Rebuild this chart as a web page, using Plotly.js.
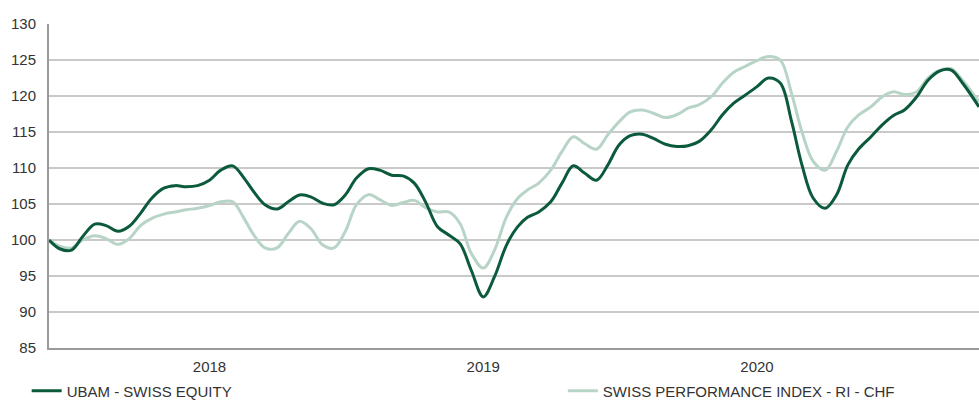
<!DOCTYPE html>
<html>
<head>
<meta charset="utf-8">
<script src="https://cdn.plot.ly/plotly-3.0.1.min.js"></script>
<style>html,body{margin:0;padding:0;background:#fff;}#chart{width:979px;height:400px;}</style>
</head>
<body>
<div id="chart"></div>
<script>
const dates = [
 '2017-06-01','2017-06-16','2017-07-01','2017-07-16','2017-08-01','2017-08-16','2017-09-01','2017-09-16',
 '2017-10-01','2017-10-16','2017-11-01','2017-11-16','2017-12-01','2017-12-16',
 '2018-01-01','2018-01-16','2018-02-01','2018-02-16','2018-03-01','2018-03-16','2018-04-01','2018-04-16',
 '2018-05-01','2018-05-16','2018-06-01','2018-06-16','2018-07-01','2018-07-16','2018-08-01','2018-08-16',
 '2018-09-01','2018-09-16','2018-10-01','2018-10-16','2018-11-01','2018-11-16','2018-12-01','2018-12-16',
 '2019-01-01','2019-01-16','2019-02-01','2019-02-16','2019-03-01','2019-03-16','2019-04-01','2019-04-16',
 '2019-05-01','2019-05-16','2019-06-01','2019-06-16','2019-07-01','2019-07-16','2019-08-01','2019-08-16',
 '2019-09-01','2019-09-16','2019-10-01','2019-10-16','2019-11-01','2019-11-16','2019-12-01','2019-12-16',
 '2020-01-01','2020-01-16','2020-02-01','2020-02-16','2020-03-01','2020-03-16','2020-04-01','2020-04-16',
 '2020-05-01','2020-05-16','2020-06-01','2020-06-16','2020-07-01','2020-07-16','2020-08-01','2020-08-16',
 '2020-09-01','2020-09-16','2020-10-01','2020-10-23'
];
const ubam = [
 100.0, 98.75, 98.6, 100.5, 102.2, 102.0, 101.2, 101.9,
 103.7, 105.8, 107.2, 107.55, 107.4, 107.55,
 108.3, 109.7, 110.3, 108.6, 106.7, 104.9, 104.3, 105.3,
 106.25, 106.0, 105.1, 104.9, 106.25, 108.6, 109.9, 109.7,
 109.0, 108.9, 107.9, 105.3, 101.85, 100.7, 99.5, 95.8,
 92.1, 94.9, 99.3, 101.85, 103.15, 103.9, 105.3, 107.9,
 110.3, 109.3, 108.3, 110.4, 113.2, 114.5, 114.7, 114.1,
 113.3, 113.0, 113.1, 113.7, 115.3, 117.4, 119.0, 120.1,
 121.3, 122.5, 121.8, 116.5, 110.4, 105.8, 104.4, 106.25,
 110.4, 112.7, 114.35, 116.0, 117.3, 118.1, 119.9, 122.2,
 123.5, 123.6, 121.8, 118.5
];
const spi = [
 100.0, 99.1, 98.9, 100.0, 100.6, 100.2, 99.4, 100.2,
 102.0, 103.0, 103.6, 103.9, 104.2, 104.4,
 104.8, 105.3, 105.3, 103.0, 100.7, 98.9, 98.9, 100.9,
 102.6, 101.6, 99.3, 98.9, 101.2, 104.9, 106.3, 105.6,
 104.8, 105.2, 105.5, 104.5, 103.9, 103.9, 102.3, 98.15,
 96.1, 98.6, 103.2, 105.8, 106.95, 107.9, 109.7, 112.3,
 114.35, 113.4, 112.6, 114.6, 116.4, 117.8, 118.05, 117.6,
 117.0, 117.4, 118.3, 118.8, 119.9, 121.8, 123.3, 124.1,
 124.9, 125.5, 125.0, 120.4, 115.0, 110.9, 109.7, 112.3,
 115.7, 117.4, 118.5, 119.9, 120.6, 120.2, 120.6, 122.5,
 123.6, 123.8, 122.2, 119.2
];
const seriesNames = ['UBAM - SWISS EQUITY', 'SWISS PERFORMANCE INDEX - RI - CHF'];
const yearTickVals = ['2018-01-01', '2019-01-01', '2020-01-01'];
const yearTickText = ['2018', '2019', '2020'];

const FONT = 'Liberation Sans, Arial, sans-serif';
const traces = [
  {x: dates, y: spi, name: seriesNames[1], type: 'scatter', mode: 'lines',
   line: {color: '#b8d4c7', width: 3, shape: 'spline', smoothing: 1}, legend: 'legend2'},
  {x: dates, y: ubam, name: seriesNames[0], type: 'scatter', mode: 'lines',
   line: {color: '#0b5a3b', width: 3, shape: 'spline', smoothing: 1}, legend: 'legend'}
];
const layout = {
  width: 979, height: 400,
  margin: {l: 49, r: 0, t: 24, b: 52, autoexpand: false},
  paper_bgcolor: '#fff', plot_bgcolor: '#fff',
  font: {family: FONT, size: 15, color: '#333'},
  showlegend: true,
  hovermode: false,
  xaxis: {
    type: 'date', range: ['2017-06-01', '2020-10-23'],
    tickvals: yearTickVals, ticktext: yearTickText,
    showgrid: false, zeroline: false,
    showline: true, linecolor: '#9a9a9a', linewidth: 2,
    ticks: '', ticklabelstandoff: 4,
    tickfont: {family: FONT, size: 15, color: '#333'}
  },
  yaxis: {
    range: [85, 130], dtick: 5, tick0: 85,
    showgrid: true, gridcolor: '#c9c9c9', gridwidth: 1.5,
    zeroline: false, showline: true, linecolor: '#9a9a9a', linewidth: 2,
    ticks: '', ticklabelstandoff: 8,
    tickfont: {family: FONT, size: 15, color: '#333'}
  },
  legend: {orientation: 'h', x: -0.024, xanchor: 'left', y: -0.133, yanchor: 'middle',
           bgcolor: 'rgba(0,0,0,0)', font: {family: FONT, size: 15, color: '#333'}},
  legend2: {orientation: 'h', x: 0.5525, xanchor: 'left', y: -0.133, yanchor: 'middle',
           bgcolor: 'rgba(0,0,0,0)', font: {family: FONT, size: 15, color: '#333'}}
};
Plotly.newPlot('chart', traces, layout, {displayModeBar: false, staticPlot: true});
</script>
</body>
</html>
